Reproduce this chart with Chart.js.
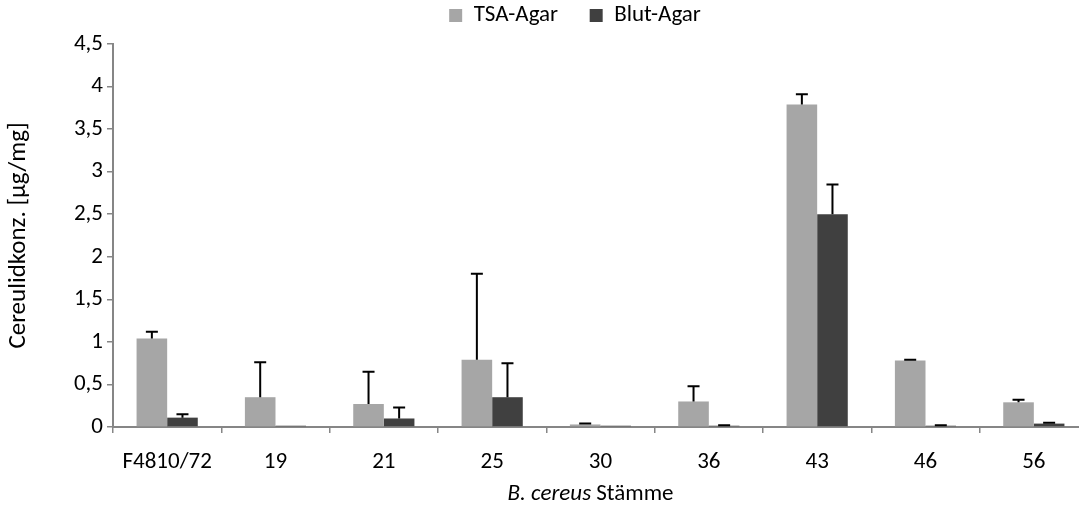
<!DOCTYPE html>
<html>
<head>
<meta charset="utf-8">
<script src="https://cdn.jsdelivr.net/npm/chart.js@4/dist/chart.umd.min.js"></script>
<style>
  html, body { margin: 0; padding: 0; background: #fff; overflow: hidden; }
  #wrap { width: 1092px; height: 514px; }
</style>
</head>
<body>
<div id="wrap"><canvas id="myChart"></canvas></div>
<script>
// data
const strains = ['F4810/72', '19', '21', '25', '30', '36', '43', '46', '56'];
const tsaValues = [1.04, 0.35, 0.27, 0.79, 0.03, 0.30, 3.79, 0.78, 0.29];
const tsaErrors = [0.08, 0.41, 0.38, 1.01, 0.01, 0.18, 0.12, 0.01, 0.03];
const blutValues = [0.11, 0.015, 0.10, 0.35, 0.015, 0.015, 2.50, 0.015, 0.04];
const blutErrors = [0.04, 0, 0.13, 0.40, 0, 0.005, 0.35, 0.005, 0.01];
const yTicks = [0, 0.5, 1, 1.5, 2, 2.5, 3, 3.5, 4, 4.5];

const fontFamily = 'Carlito, Calibri, Lato, sans-serif';
const fontSize = 23;
const axisGray = '#868686';

// error bars (upper only), drawn through the y scale
const errorBars = {
  id: 'errorBars',
  afterDatasetsDraw(chart) {
    const ctx = chart.ctx;
    const y = chart.scales.y;
    const errs = [tsaErrors, blutErrors];
    ctx.save();
    ctx.strokeStyle = '#000';
    ctx.lineWidth = 2;
    chart.data.datasets.forEach((ds, i) => {
      const meta = chart.getDatasetMeta(i);
      meta.data.forEach((bar, j) => {
        const e = errs[i][j];
        if (!e) return;
        const top = y.getPixelForValue(ds.data[j] + e);
        ctx.beginPath();
        ctx.moveTo(bar.x, bar.y);
        ctx.lineTo(bar.x, top);
        ctx.moveTo(bar.x - 6, top);
        ctx.lineTo(bar.x + 6, top);
        ctx.stroke();
      });
    });
    ctx.restore();
  }
};

// extra room under the legend, and nudge it right like the original
const legendTweak = {
  id: 'legendTweak',
  beforeInit(chart) {
    const legend = chart.legend;
    const fit = legend.fit;
    legend.fit = function () {
      fit.call(this);
      this.height += 7;
    };
    const draw = legend.draw;
    legend.draw = function () {
      const ctx = this.ctx;
      ctx.save();
      ctx.translate(31, 0);
      draw.call(this);
      ctx.restore();
    };
  }
};

// x axis title with italic species name
const xTitle = {
  id: 'xTitle',
  afterDraw(chart) {
    const ctx = chart.ctx;
    const a = chart.chartArea;
    const part1 = 'B. cereus ';
    const part2 = 'Stämme';
    ctx.save();
    ctx.fillStyle = '#000';
    ctx.textBaseline = 'middle';
    ctx.font = 'italic ' + fontSize + 'px ' + fontFamily;
    const w1 = ctx.measureText(part1).width;
    ctx.font = fontSize + 'px ' + fontFamily;
    const w2 = ctx.measureText(part2).width;
    const x0 = (a.left + a.right) / 2 - 10 - (w1 + w2) / 2;
    ctx.font = 'italic ' + fontSize + 'px ' + fontFamily;
    ctx.fillText(part1, x0, 494);
    ctx.font = fontSize + 'px ' + fontFamily;
    ctx.fillText(part2, x0 + w1, 494);
    ctx.restore();
  }
};

const data = {
  labels: strains,
  datasets: [
    {
      label: 'TSA-Agar',
      data: tsaValues,
      backgroundColor: '#a6a6a6',
      borderWidth: 0
    },
    {
      label: 'Blut-Agar',
      data: blutValues,
      backgroundColor: '#404040',
      borderWidth: 0
    }
  ]
};

const options = {
  responsive: true,
  maintainAspectRatio: false,
  animation: false,
  layout: { padding: { top: 0, right: 4, left: 0, bottom: 0 } },
  datasets: {
    bar: { barPercentage: 1, categoryPercentage: 0.565 }
  },
  plugins: {
    legend: {
      display: true,
      position: 'top',
      labels: {
        boxWidth: 13,
        boxHeight: 13,
        padding: 4,
        color: '#000',
        font: { family: fontFamily, size: fontSize },
        generateLabels(chart) {
          const items = Chart.defaults.plugins.legend.labels.generateLabels(chart);
          // wider gap after the first entry
          items[0].text += '\u2003\u2009';
          return items;
        }
      }
    },
    tooltip: { enabled: false }
  },
  scales: {
    x: {
      offset: true,
      grid: {
        offset: true,
        drawOnChartArea: false,
        drawTicks: true,
        tickLength: 6,
        color: axisGray,
        lineWidth: 1.5
      },
      border: { display: true, color: axisGray, width: 2 },
      ticks: {
        color: '#000',
        padding: 15,
        maxRotation: 0,
        font: { family: fontFamily, size: fontSize }
      },
      afterFit(scale) { scale.height = 87; }
    },
    y: {
      min: 0,
      max: 4.5,
      afterBuildTicks(scale) { scale.ticks = yTicks.map(v => ({ value: v })); },
      grid: {
        drawOnChartArea: false,
        drawTicks: true,
        tickLength: 6,
        color: axisGray,
        lineWidth: 1.5
      },
      border: { display: true, color: axisGray, width: 2 },
      ticks: {
        color: '#000',
        padding: 4,
        font: { family: fontFamily, size: fontSize },
        callback: v => String(v).replace('.', ',')
      },
      title: {
        display: true,
        text: 'Cereulidkonz. [µg/mg]',
        color: '#000',
        padding: { top: 4, bottom: 0 },
        font: { family: fontFamily, size: 25 }
      },
      afterFit(scale) { scale.width = 113; }
    }
  }
};

const config = {
  type: 'bar',
  data,
  options,
  plugins: [errorBars, legendTweak, xTitle]
};

const myChart = new Chart(document.getElementById('myChart'), config);
</script>
</body>
</html>
